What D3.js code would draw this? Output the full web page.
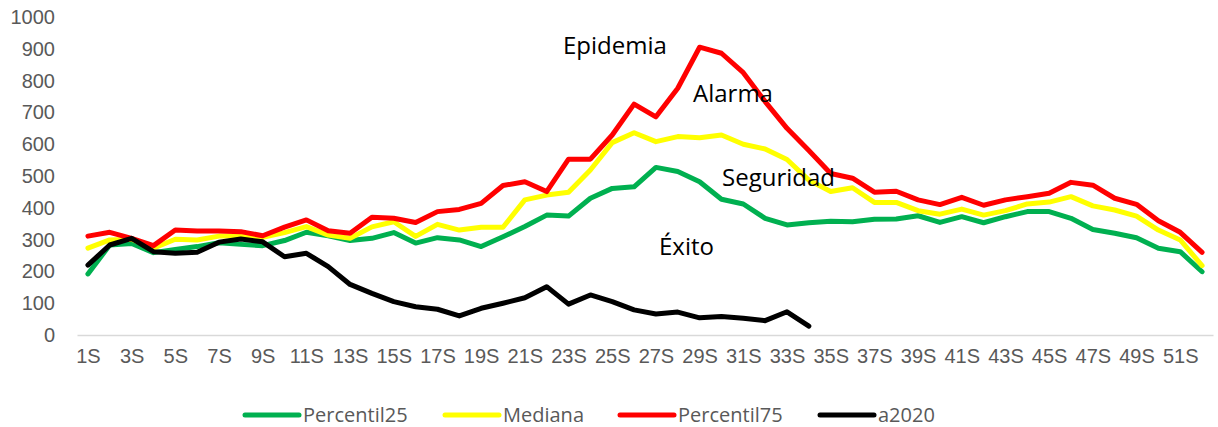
<!DOCTYPE html>
<html>
<head>
<meta charset="utf-8">
<script src="https://cdn.jsdelivr.net/npm/d3@7"></script>
<style>
  body { margin: 0; background: #fff; }
  svg { font-family: "Open Sans", sans-serif; }
  .tick text { fill: #595959; font-size: 20px; }
</style>
</head>
<body>
<div id="chartDiv"></div>
<script>
var weeks = d3.range(1, 53).map(function(d) { return d + "S"; });
var xTickLabels = weeks.filter(function(d, i) { return i % 2 === 0; });
var yTicks = d3.range(0, 1001, 100);

var percentil25 = [192, 283, 288, 259, 269, 278, 290, 285, 281, 297, 323, 312, 297, 304, 322, 289, 306, 299, 278, 309,
  341, 377, 374, 430, 461, 466, 527, 514, 482, 427, 412, 367, 346, 353, 358, 356, 364, 365, 375, 354,
  372, 353, 372, 388, 388, 367, 332, 320, 306, 273, 262, 199];
var mediana = [273, 299, 301, 273, 301, 299, 311, 311, 307, 322, 341, 314, 304, 340, 356, 310, 348, 330, 339, 339,
  425, 440, 449, 519, 605, 636, 608, 624, 620, 629, 600, 585, 552, 487, 451, 463, 417, 417, 391, 380,
  396, 377, 391, 412, 418, 435, 406, 393, 374, 330, 299, 218];
var percentil75 = [311, 323, 304, 281, 330, 327, 327, 325, 312, 339, 362, 328, 320, 370, 367, 354, 388, 395, 414, 470,
  482, 451, 553, 553, 629, 726, 686, 776, 905, 886, 825, 734, 650, 580, 508, 493, 449, 452, 425, 410,
  433, 408, 425, 435, 446, 480, 471, 430, 411, 359, 323, 260];
var a2020 = [220, 283, 304, 262, 257, 260, 292, 302, 293, 246, 257, 215, 159, 131, 105, 89, 81, 60, 84, 100,
  117, 152, 97, 126, 105, 79, 66, 72, 54, 58, 53, 45, 73, 28];

var seriesNames = ["Percentil25", "Mediana", "Percentil75", "a2020"];
var seriesColors = ["#00b050", "#ffff00", "#ff0000", "#000000"];
var seriesValues = [percentil25, mediana, percentil75, a2020];

var zoneLabels = ["Epidemia", "Alarma", "Seguridad", "Éxito"];
var zonePos = [[563, 54], [693, 102], [722, 186], [659, 255]];

;(function() {
  var width = 1218, height = 427;

  var chart = d3.select("#chartDiv").append("svg")
    .attr("width", width)
    .attr("height", height);

  var xScale = d3.scalePoint()
    .domain(weeks)
    .range([77, 1213])
    .padding(0.5);

  var yScale = d3.scaleLinear()
    .domain([0, 1000])
    .range([335, 17]);

  // x axis
  var xAxis = d3.axisBottom(xScale)
    .tickValues(xTickLabels)
    .tickSize(0)
    .tickPadding(14);
  var xg = chart.append("g")
    .attr("transform", "translate(0,335)")
    .call(xAxis);
  xg.select(".domain").attr("stroke", "#d9d9d9").attr("stroke-width", 1.5);

  // y axis
  var yAxis = d3.axisLeft(yScale)
    .tickValues(yTicks)
    .tickFormat(d3.format("d"))
    .tickSize(0)
    .tickPadding(0);
  var yg = chart.append("g")
    .attr("transform", "translate(55,0)")
    .call(yAxis);
  yg.select(".domain").remove();

  var line = d3.line()
    .x(function(d, i) { return xScale(weeks[i]); })
    .y(function(d) { return yScale(d); });

  seriesValues.forEach(function(vals, k) {
    chart.append("path")
      .datum(vals)
      .attr("fill", "none")
      .attr("stroke", seriesColors[k])
      .attr("stroke-width", 5)
      .attr("stroke-linejoin", "round")
      .attr("stroke-linecap", "round")
      .attr("d", line);
  });

  // zone labels
  zoneLabels.forEach(function(t, i) {
    chart.append("text")
      .attr("x", zonePos[i][0])
      .attr("y", zonePos[i][1])
      .style("font-size", "24px")
      .attr("fill", "#000")
      .text(t);
  });

  // legend
  var legendX = [245, 445, 620, 820];
  var lg = chart.append("g");
  seriesNames.forEach(function(name, k) {
    lg.append("line")
      .attr("x1", legendX[k]).attr("x2", legendX[k] + 54)
      .attr("y1", 415).attr("y2", 415)
      .attr("stroke", seriesColors[k])
      .attr("stroke-width", 5)
      .attr("stroke-linecap", "round");
    lg.append("text")
      .attr("x", legendX[k] + 58)
      .attr("y", 422)
      .style("font-size", "20px")
      .attr("fill", "#595959")
      .text(name);
  });
})();
</script>
</body>
</html>
